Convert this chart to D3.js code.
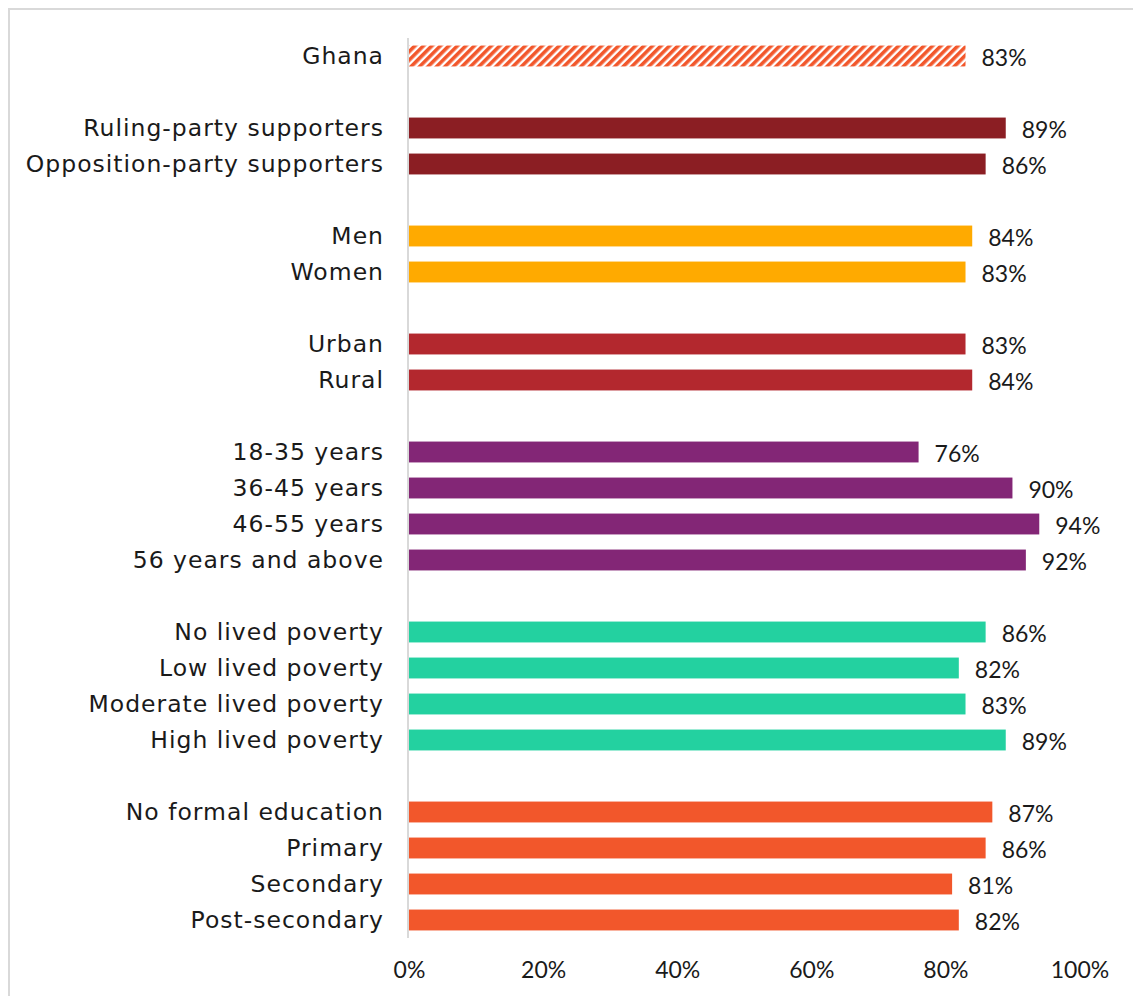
<!DOCTYPE html>
<html>
<head>
<meta charset="utf-8">
<script src="https://cdn.jsdelivr.net/npm/d3@7"></script>
<style>
  html, body { margin: 0; padding: 0; background: #fff; }
  svg { display: block; }
</style>
</head>
<body>
<svg id="chart" width="1133" height="996"></svg>
<script>
// ---- Data ----
const categories = [
  "Ghana", "",
  "Ruling-party supporters", "Opposition-party supporters", " ",
  "Men", "Women", "  ",
  "Urban", "Rural", "   ",
  "18-35 years", "36-45 years", "46-55 years", "56 years and above", "    ",
  "No lived poverty", "Low lived poverty", "Moderate lived poverty", "High lived poverty", "     ",
  "No formal education", "Primary", "Secondary", "Post-secondary"
];
const values = [
  83, null,
  89, 86, null,
  84, 83, null,
  83, 84, null,
  76, 90, 94, 92, null,
  86, 82, 83, 89, null,
  87, 86, 81, 82
];
const groups = [
  "total", null,
  "party", "party", null,
  "gender", "gender", null,
  "location", "location", null,
  "age", "age", "age", "age", null,
  "poverty", "poverty", "poverty", "poverty", null,
  "education", "education", "education", "education"
];
const groupColors = {
  total: "url(#hatch)",
  party: "#8B1E23",
  gender: "#FFAA00",
  location: "#B3282E",
  age: "#832676",
  poverty: "#23D1A0",
  education: "#F2572B"
};
const tickValues = [0, 20, 40, 60, 80, 100];

// ---- Layout ----
const svg = d3.select("#chart");
const x0 = 409, x1 = 1079.5;
const yTop = 38, yBottom = 938;

const defs = svg.append("defs");
const pat = defs.append("pattern")
  .attr("id", "hatch")
  .attr("patternUnits", "userSpaceOnUse")
  .attr("width", 6).attr("height", 6)
  .attr("patternTransform", "rotate(45)");
pat.append("rect").attr("width", 6).attr("height", 6).attr("fill", "#FFFFFF");
pat.append("rect").attr("width", 3.6).attr("height", 6).attr("fill", "#F2572B");

// frame (partial border)
svg.append("line").attr("x1", 9).attr("x2", 9).attr("y1", 9).attr("y2", 996)
  .attr("stroke", "#D9D9D9").attr("stroke-width", 2);
svg.append("line").attr("x1", 8).attr("x2", 1133).attr("y1", 9).attr("y2", 9)
  .attr("stroke", "#D9D9D9").attr("stroke-width", 2);

const x = d3.scaleLinear().domain([0, 100]).range([x0, x1]);
const y = d3.scaleBand().domain(categories).range([yTop, yBottom]).paddingInner(0.42).paddingOuter(0.21);

const data = categories.map((c, i) => ({ cat: c, value: values[i], group: groups[i] }))
  .filter(d => d.value !== null);

// bars
svg.append("g").selectAll("rect").data(data).join("rect")
  .attr("x", x(0))
  .attr("y", d => y(d.cat))
  .attr("width", d => x(d.value) - x(0))
  .attr("height", y.bandwidth())
  .attr("fill", d => groupColors[d.group]);

// vertical axis line
svg.append("line").attr("x1", x0 - 1).attr("x2", x0 - 1).attr("y1", yTop).attr("y2", yBottom)
  .attr("stroke", "#D9D9D9").attr("stroke-width", 2);

// category labels
const yAxis = d3.axisLeft(y).tickSize(0).tickPadding(25)
  .tickFormat(d => d.trim());
const gy = svg.append("g").attr("transform", `translate(${x0},0)`).call(yAxis);
gy.select(".domain").remove();
gy.selectAll("text")
  .attr("font-family", "'Century Gothic', 'DejaVu Sans', sans-serif")
  .attr("font-size", 23.5)
  .attr("letter-spacing", 1)
  .attr("dy", "0.36em")
  .attr("fill", "#1a1a1a");

// value labels
svg.append("g").selectAll("text").data(data).join("text")
  .attr("x", d => x(d.value) + 16)
  .attr("y", d => y(d.cat) + y.bandwidth() / 2)
  .attr("dy", "0.42em")
  .attr("font-family", "'Tw Cen MT', Lato, sans-serif")
  .attr("font-size", 23)
  .attr("fill", "#1a1a1a")
  .text(d => d.value + "%");

// x axis
const xAxis = d3.axisBottom(x).tickValues(tickValues).tickSize(0).tickPadding(0)
  .tickFormat(d => d + "%");
const gx = svg.append("g").attr("transform", `translate(0,962)`).call(xAxis);
gx.select(".domain").remove();
gx.selectAll("text")
  .attr("font-family", "'Tw Cen MT', Lato, sans-serif")
  .attr("font-size", 23)
  .attr("fill", "#1a1a1a");
</script>
</body>
</html>
